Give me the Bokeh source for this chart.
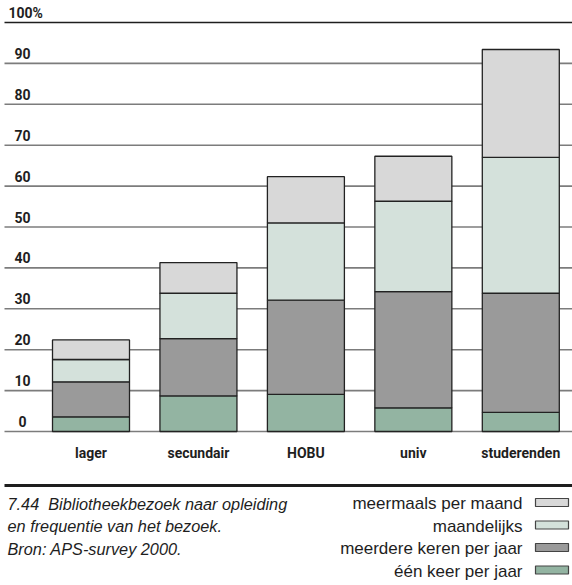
from bokeh.plotting import figure
from bokeh.models import ColumnDataSource, Range1d, Span, Label
from bokeh.embed import file_html
from bokeh.resources import INLINE

# ---- data ----
categories = ["lager", "secundair", "HOBU", "univ", "studerenden"]
series_names = ["één keer per jaar", "meerdere keren per jaar", "maandelijks", "meermaals per maand"]
een_keer = [3.6, 8.7, 9.1, 5.8, 4.7]
meerdere_keren = [8.55, 14.0, 23.0, 28.4, 29.1]
maandelijks = [5.45, 11.1, 18.9, 22.1, 33.2]
meermaals = [4.8, 7.5, 11.3, 11.0, 26.4]
y_ticks = [0, 10, 20, 30, 40, 50, 60, 70, 80, 90, 100]
y_tick_labels = ["0", "10", "20", "30", "40", "50", "60", "70", "80", "90", "100%"]
caption_lines = ["7.44\u00a0 Bibliotheekbezoek naar opleiding",
                 "en frequentie van het bezoek.",
                 "Bron: APS-survey 2000."]
colors = ["#93b4a2", "#9a9a9a", "#d4e1db", "#d8d8d8"]

# ---- layout helpers (picture pixel -> data) ----
W, H = 572, 585
X_C0, X_STEP = 90.5, 107.45
Y_ZERO, Y_PX = 431.0, 4.09


def xd(px):
    return (px - X_C0) / X_STEP


def yd(py):
    return (Y_ZERO - py) / Y_PX


p = figure(width=W, height=H, output_backend="svg", toolbar_location=None,
           x_range=Range1d(xd(0), xd(W)), y_range=Range1d(yd(H), yd(0)),
           x_axis_type=None, y_axis_type=None,
           min_border=0, min_border_left=0, min_border_right=0,
           min_border_top=0, min_border_bottom=0)
p.outline_line_color = None
p.grid.visible = False
p.background_fill_color = "white"
p.border_fill_color = "white"

# gridlines (drawn first, under the bars)
grid_colors = ["#1e1e1e" if v == 100 else "#7c7c7c" for v in y_ticks]
p.segment(x0=[xd(4)] * len(y_ticks), x1=[xd(W)] * len(y_ticks),
          y0=y_ticks, y1=y_ticks, line_color=grid_colors, line_width=1.6)

# tick labels
TICK_FONT = "Roboto"
for v, lab in zip(y_ticks, y_tick_labels):
    if lab.endswith("%"):
        p.add_layout(Label(x=xd(8), y=v + 10 / Y_PX, text=lab, text_align="left",
                           text_baseline="middle", text_font=TICK_FONT,
                           text_font_style="bold", text_font_size="14px",
                           text_color="#1e1e1e"))
    else:
        p.add_layout(Label(x=xd(22), y=v + 10 / Y_PX, text=lab, text_align="center",
                           text_baseline="middle", text_font=TICK_FONT,
                           text_font_style="bold", text_font_size="14px",
                           text_color="#1e1e1e"))

# bars
source = ColumnDataSource(dict(
    x=list(range(len(categories))),
    een=een_keer, meerdere=meerdere_keren, maand=maandelijks, meermaals=meermaals,
))
p.vbar_stack(["een", "meerdere", "maand", "meermaals"], x="x", width=77 / X_STEP,
             color=colors, line_color="#222222", line_width=1.3, source=source)

# category labels
for i, c in enumerate(categories):
    p.add_layout(Label(x=i, y=yd(452), text=c, text_align="center",
                       text_baseline="middle", text_font=TICK_FONT,
                       text_font_style="bold", text_font_size="14px",
                       text_color="#1e1e1e"))

# thick separator line
p.segment(x0=[xd(4)], x1=[xd(W)], y0=[yd(485)], y1=[yd(485)],
          line_color="#1e1e1e", line_width=3)

# caption
for k, line in enumerate(caption_lines):
    p.add_layout(Label(x=xd(7), y=yd(503 + 22.7 * k), text=line, text_align="left",
                       text_baseline="middle", text_font="Liberation Sans",
                       text_font_style="italic", text_font_size="16.3px",
                       text_color="#1e1e1e"))

# legend (text then swatch on the right), top-down reversed stack order
legend_order = [3, 2, 1, 0]
for row, si in enumerate(legend_order):
    yc = 503 + 22.5 * row
    p.add_layout(Label(x=xd(522), y=yd(yc), text=series_names[si], text_align="right",
                       text_baseline="middle", text_font="Liberation Sans",
                       text_font_size="17px", text_color="#1e1e1e"))
    p.quad(left=[xd(535)], right=[xd(568)], top=[yd(yc - 5)], bottom=[yd(yc + 3)],
           fill_color=colors[si], line_color="#444444", line_width=1.2)

open("out.html", "w").write(file_html(p, INLINE))
